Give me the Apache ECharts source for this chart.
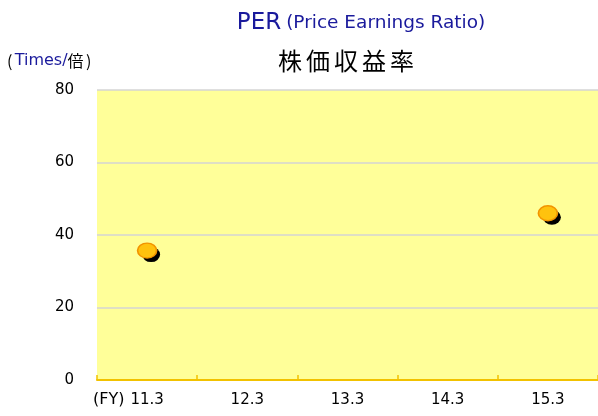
<!DOCTYPE html>
<html><head><meta charset="utf-8">
<script src="https://cdn.jsdelivr.net/npm/echarts@6/dist/echarts.min.js"></script>
<style>html,body{margin:0;padding:0;background:#fff}#c{width:598px;height:416px}</style>
</head><body><div id="c"></div>
<script>
const categories = ['11.3', '12.3', '13.3', '14.3', '15.3'];
const perValues = [35.7, null, null, null, 46];
const yTicks = { min: 0, max: 80, interval: 20 };

const chart = echarts.init(document.getElementById('c'));
const F = '"DejaVu Sans", "Liberation Sans", sans-serif';
const J = '"Noto Sans CJK JP", sans-serif';
const BLUE = '#1a1a9c';
const jpTitle = '株価収益率';
chart.setOption({
  backgroundColor: '#ffffff',
  animation: false,
  title: [
    { text: '{a|PER} {b|(Price Earnings Ratio)}', left: 356, top: 7, textAlign: 'center',
      textStyle: { rich: {
        a: { fontSize: 23, color: BLUE, fontFamily: F, fontWeight: 'normal' },
        b: { fontSize: 18.5, color: BLUE, fontFamily: F, fontWeight: 'normal' }
      } } },
    { text: jpTitle.split('').map(c => '{c|' + c + '}').join(''), left: 341, top: 44, textAlign: 'center',
      textStyle: { rich: {
        c: { fontSize: 24, width: 28, align: 'center', color: '#000', fontFamily: J, fontWeight: 'normal' }
      } } }
  ],
  graphic: [
    { type: 'text', left: 7, top: 53, style: { rich: {
        p: { fontSize: 16, width: 10, align: 'center', fill: '#000', fontFamily: J },
        t: { fontSize: 16, fill: BLUE, fontFamily: F },
        k: { fontSize: 16, fill: '#000', fontFamily: J }
      }, text: '{p|(}{t|Times/}{k|倍}{p|)}' } },
    { type: 'text', left: 93, top: 392, style: { text: '(FY)', fontSize: 16, fill: '#000', fontFamily: F } }
  ],
  grid: { left: 97, right: 0, top: 90, bottom: 36 },
  xAxis: {
    type: 'category', data: categories, boundaryGap: true,
    axisLine: { lineStyle: { color: '#f2c200', width: 2 } },
    axisTick: { show: true, inside: true, length: 5, lineStyle: { color: '#f2c200', width: 1.5 } },
    axisLabel: { color: '#000', fontSize: 15, fontFamily: F, margin: 13 },
    splitLine: { show: false }
  },
  yAxis: {
    type: 'value', min: yTicks.min, max: yTicks.max, interval: yTicks.interval,
    axisLine: { show: false }, axisTick: { show: false },
    axisLabel: { color: '#000', fontSize: 15, fontFamily: F, margin: 23 },
    splitLine: { lineStyle: { color: '#d4d4d4', width: 1.5 } },
    splitArea: { show: true, areaStyle: { color: ['#ffff99', '#ffff99'] } }
  },
  series: [
    { type: 'scatter', data: perValues, symbol: 'circle', symbolSize: [18, 15], symbolOffset: [4, 4],
      itemStyle: { color: '#000', opacity: 1 }, silent: true, z: 2 },
    { type: 'scatter', data: perValues, symbol: 'circle', symbolSize: [19, 15],
      itemStyle: { color: '#ffc20e', borderColor: '#f29400', borderWidth: 1.5, opacity: 1 }, z: 3 }
  ]
});
</script></body></html>
